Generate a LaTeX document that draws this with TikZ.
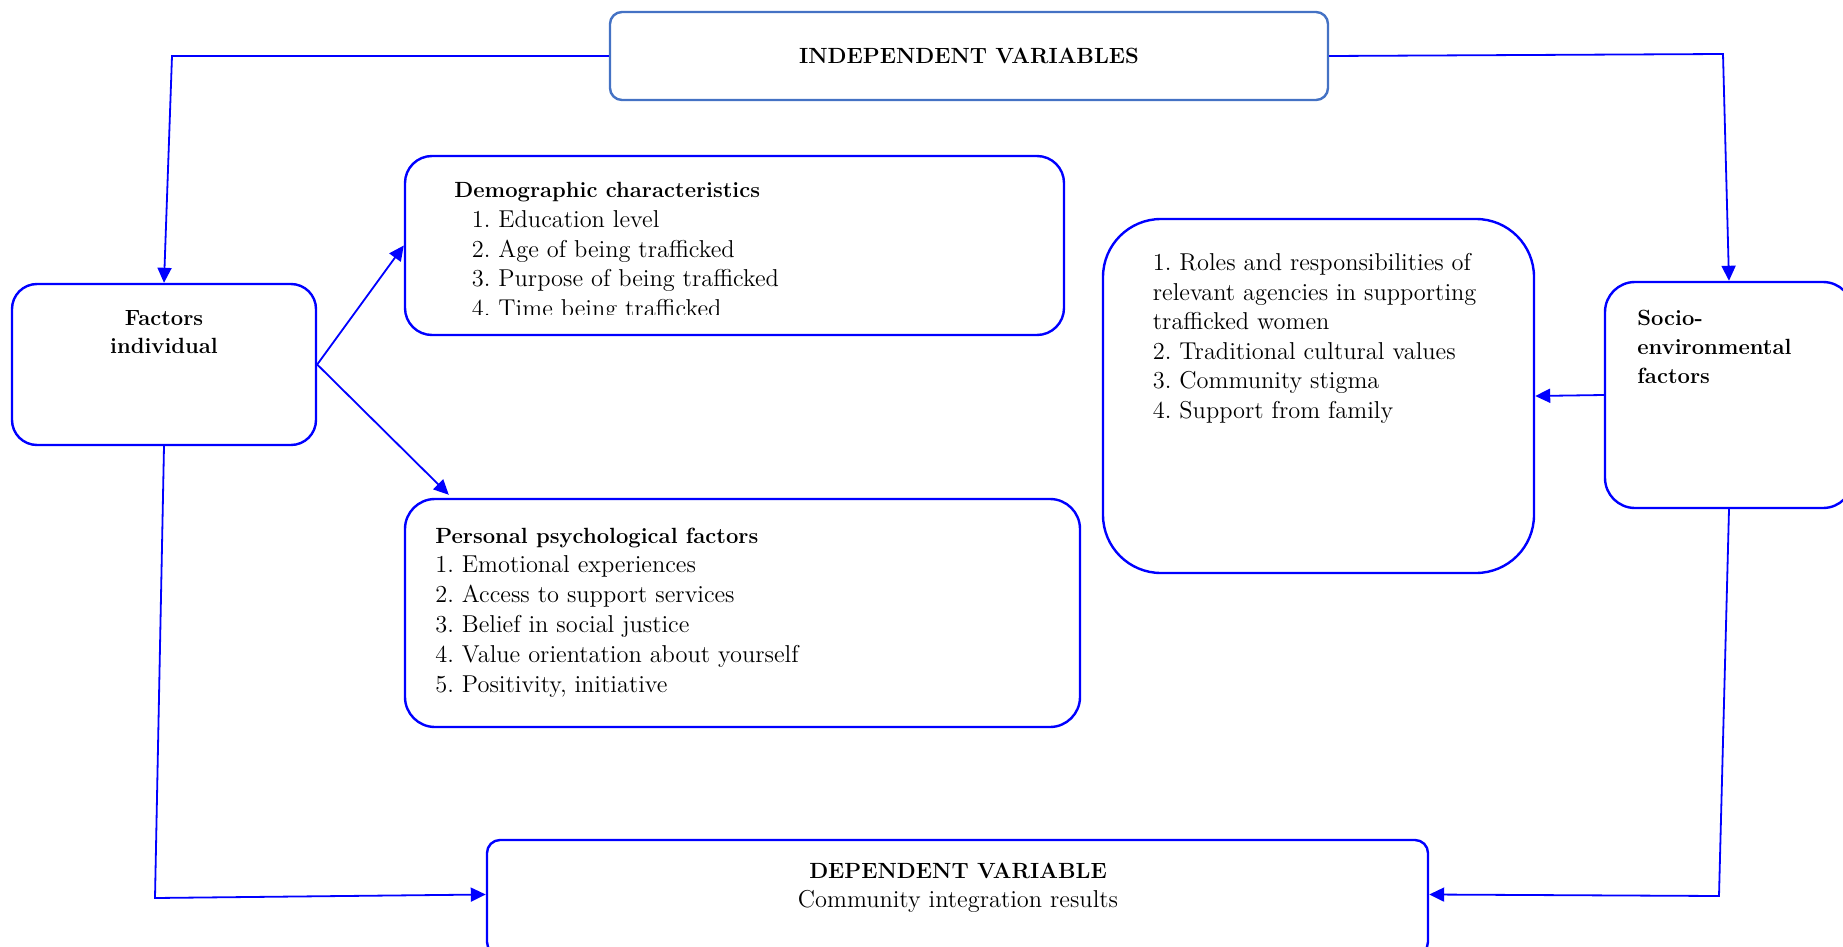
\documentclass[tikz,border=0pt]{standalone}
\usetikzlibrary{arrows.meta,calc}
\definecolor{lnblue}{RGB}{0,0,255}
\definecolor{indblue}{RGB}{68,114,196}
\begin{document}
\frenchspacing
\begin{tikzpicture}[x=0.5pt,y=-0.5pt,
  box/.style={draw=lnblue, line width=1.2pt, rectangle, inner sep=0pt},
  conn/.style={draw=lnblue, line width=0.9pt, -{Triangle[length=7.5pt,width=7pt]}},
  reg/.style={font=\fontsize{12.2}{14.8}\selectfont\frenchspacing, inner sep=0pt, text=black},
  bld/.style={font=\fontsize{11}{14}\selectfont\bfseries\frenchspacing, inner sep=0pt, text=black}]
\useasboundingbox (0,0) rectangle (1843,947);

% boxes
\node[box, draw=indblue, rounded corners=6pt, minimum width=359pt, minimum height=44pt,
      font=\fontsize{11}{14}\selectfont\bfseries] (ind) at (969,56) {INDEPENDENT VARIABLES};
\node[box, rounded corners=13.5pt, minimum width=329.5pt, minimum height=89.5pt] (dem) at (734.5,245.5) {};
\node[box, rounded corners=15pt, minimum width=337.5pt, minimum height=114pt] (per) at (742.5,613) {};
\node[box, rounded corners=29pt, minimum width=215.5pt, minimum height=177pt] (mid) at (1318.5,396) {};
\node[box, rounded corners=12.5pt, minimum width=152pt, minimum height=80.5pt] (fac) at (164,364.5) {};
\node[box, rounded corners=15pt, minimum width=124pt, minimum height=113pt] (soc) at (1729,395) {};
\node[box, rounded corners=6.5pt, minimum width=470.5pt, minimum height=57.5pt] (dep) at (957.5,897.5) {};

% texts
\node[bld, anchor=base] (fac1) at (164,325) {Factors};
\node[bld, anchor=base] (fac2) at (164,353) {individual};

\node[bld, anchor=base west] (demt) at (454,198) {Demographic characteristics};
\begin{scope}
  \clip (410,160) rectangle (1060,314);
  \foreach \t [count=\i] in {1. Education level, 2. Age of being trafficked, 3. Purpose of being trafficked, 4. Time being trafficked}
    \node[reg, anchor=base west] (dem\i) at (471.5,{198+29.5*\i}) {\t};
\end{scope}

\node[bld, anchor=base west] (pert) at (435,543) {Personal psychological factors};
\foreach \t [count=\i] in {1. Emotional experiences, 2. Access to support services, 3. Belief in social justice, 4. Value orientation about yourself, {5. Positivity, initiative}}
  \node[reg, anchor=base west] (per\i) at (435,{543+29.8*\i}) {\t};

\foreach \t [count=\i] in {1. Roles and responsibilities of, relevant agencies in supporting, trafficked women, 2. Traditional cultural values, 3. Community stigma, 4. Support from family}
  \node[reg, anchor=base west] (mid\i) at (1152.5,{270.5+29.6*(\i-1)}) {\t};

\foreach \t [count=\i] in {Socio-, environmental, factors}
  \node[bld, anchor=base west] (soc\i) at (1637,{325.7+29*(\i-1)}) {\t};

\node[bld, anchor=base] (dep1) at (958,878) {DEPENDENT VARIABLE};
\node[reg, anchor=base] (dep2) at (958,907) {Community integration results};

% connectors
\coordinate (c1) at (172,56);
\coordinate (c2) at (1723,54);
\coordinate (c3) at (155,898);
\coordinate (c4) at (1719,896);
\draw[conn] (ind.west) -- (c1) -- (fac.north);
\draw[conn] (ind.east) -- (c2) -- (soc.north);
\draw[conn] (fac.east) -- (dem.west);
\draw[conn] (fac.east) -- ([xshift=22.5pt,yshift=1.5pt]per.north west);
\draw[conn] (soc.west) -- (mid.east);
\draw[conn] (fac.south) -- (c3) -- ([yshift=1.5pt]dep.west);
\draw[conn] (soc.south) -- (c4) -- ([yshift=1.5pt]dep.east);
\end{tikzpicture}
\end{document}
